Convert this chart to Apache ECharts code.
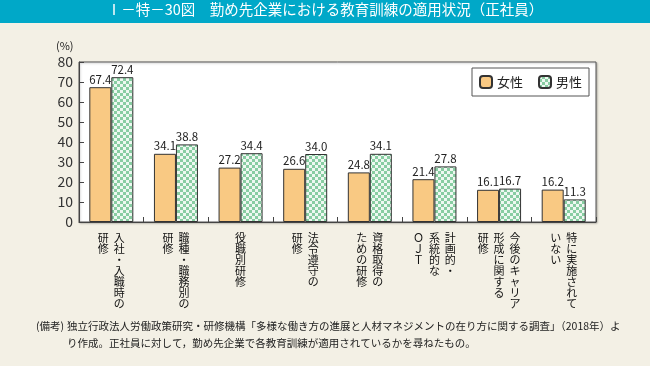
<!DOCTYPE html>
<html><head><meta charset="utf-8">
<script src="https://cdn.jsdelivr.net/npm/echarts@6/dist/echarts.min.js"></script>
<style>html,body{margin:0;padding:0;background:#f3f0e5;}#c{width:650px;height:366px;}</style>
</head><body><div id="c"></div>
<script>
// Category labels: columns of vertical text, read right-to-left
const categoryColumns = [
  ['入社・入職時の', '研修'],
  ['職種・職務別の', '研修'],
  ['役職別研修'],
  ['法令遵守の', '研修'],
  ['資格取得の', 'ための研修'],
  ['計画的・', '系統的な', 'ＯＪＴ'],
  ['今後のキャリア', '形成に関する', '研修'],
  ['特に実施されて', 'いない']
];
const categories = categoryColumns.map(c => c.join(''));
const seriesNames = ['女性', '男性'];
const female = [67.4, 34.1, 27.2, 26.6, 24.8, 21.4, 16.1, 16.2];
const male = [72.4, 38.8, 34.4, 34.0, 34.1, 27.8, 16.7, 11.3];
const yTicks = [0, 10, 20, 30, 40, 50, 60, 70, 80];

const FONT = '"Noto Sans CJK JP", "Noto Sans", sans-serif';

function verticalLabel(cols) {
  const n = Math.max(...cols.map(c => c.length));
  const rows = [];
  for (let i = 0; i < n; i++) {
    rows.push(cols.slice().reverse().map(c => c[i] || '\u3000').join('  '));
  }
  return rows.join('\n');
}

// checker pattern for male bars
const pc = document.createElement('canvas');
pc.width = 6; pc.height = 6;
const g = pc.getContext('2d');
g.fillStyle = '#88cda2'; g.fillRect(0, 0, 6, 6);
g.fillStyle = '#eef8f1'; g.fillRect(0, 0, 3, 3); g.fillRect(3, 3, 3, 3);

const chart = echarts.init(document.getElementById('c'), null, {renderer: 'canvas'});
chart.setOption({
  animation: false,
  backgroundColor: '#f3f0e5',
  textStyle: {fontFamily: FONT},
  graphic: [
    {type: 'rect', left: 0, top: 0, shape: {width: 650, height: 23}, style: {fill: '#00a8c8'}, z: 0},
    {type: 'text', left: 'center', top: 2, style: {text: 'Ⅰ－特－30図　勤め先企業における教育訓練の適用状況（正社員）', fill: '#ffffff', font: '14.5px ' + FONT}},
    {type: 'text', left: 56, top: 40, style: {text: '(%)', fill: '#222', font: '11px ' + FONT}},
    {type: 'text', left: 36, top: 321, style: {text: '(備考)', fill: '#222', font: '10.5px ' + FONT}},
    {type: 'text', left: 67, top: 321, style: {text: '独立行政法人労働政策研究・研修機構「多様な働き方の進展と人材マネジメントの在り方に関する調査」（2018年）よ', fill: '#222', font: '10.5px ' + FONT}},
    {type: 'text', left: 67, top: 338, style: {text: 'り作成。正社員に対して，勤め先企業で各教育訓練が適用されているかを尋ねたもの。', fill: '#222', font: '10.5px ' + FONT}}
  ],
  legend: {
    data: seriesNames,
    left: 472, top: 68,
    orient: 'horizontal',
    backgroundColor: '#ffffff',
    borderColor: '#555', borderWidth: 1,
    padding: [7, 7, 7, 7],
    itemWidth: 12, itemHeight: 12, itemGap: 15,
    textStyle: {fontSize: 13, color: '#222', fontFamily: FONT}
  },
  grid: {
    left: 79, right: 54, top: 62, bottom: 144,
    show: true, backgroundColor: '#ffffff', borderColor: '#555', borderWidth: 1,
    shadowColor: 'rgba(0,0,0,0.25)', shadowBlur: 2, shadowOffsetX: 1, shadowOffsetY: 1
  },
  xAxis: {
    type: 'category',
    data: categories,
    axisLine: {lineStyle: {color: '#444'}},
    axisTick: {show: true, inside: true, length: 5, lineStyle: {color: '#444'}},
    axisLabel: {
      interval: 0, margin: 10, fontSize: 11, lineHeight: 11, color: '#111',
      verticalAlign: 'top', align: 'center', fontFamily: FONT,
      formatter: (v, i) => verticalLabel(categoryColumns[i])
    }
  },
  yAxis: {
    type: 'value', min: yTicks[0], max: yTicks[yTicks.length - 1], interval: 10,
    axisLine: {show: true, lineStyle: {color: '#444'}},
    axisTick: {show: true, inside: true, length: 5, lineStyle: {color: '#444'}},
    splitLine: {show: false},
    axisLabel: {fontSize: 14, color: '#333', margin: 6, fontFamily: FONT}
  },
  series: [
    {
      name: seriesNames[0], type: 'bar', data: female, barWidth: 22, barGap: '0%',
      itemStyle: {color: '#f9c983', borderColor: '#333', borderWidth: 1},
      label: {show: true, position: 'top', distance: 2, fontSize: 11.5, color: '#222', fontFamily: FONT, formatter: p => p.value.toFixed(1)}
    },
    {
      name: seriesNames[1], type: 'bar', data: male, barWidth: 22,
      itemStyle: {color: {image: pc, repeat: 'repeat'}, borderColor: '#333', borderWidth: 1},
      label: {show: true, position: 'top', distance: 2, fontSize: 11.5, color: '#222', fontFamily: FONT, formatter: p => p.value.toFixed(1)}
    }
  ]
});
</script></body></html>
